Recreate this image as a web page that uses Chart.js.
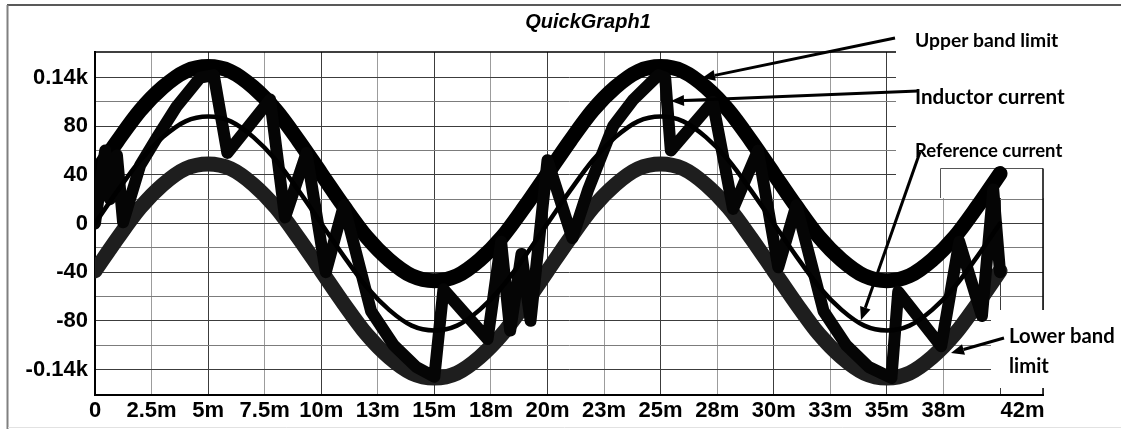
<!DOCTYPE html>
<html>
<head>
<meta charset="utf-8">
<script src="https://cdn.jsdelivr.net/npm/chart.js@4.4.0/dist/chart.umd.min.js"></script>
<style>
  html, body { margin: 0; padding: 0; background: #fff; }
  #wrap { width: 1121px; height: 429px; position: relative; }
</style>
</head>
<body>
<div id="wrap"><canvas id="quickgraph"></canvas></div>
<script>
// time (ms) of the samples
const sampleTimes = [0,1,2,3,4,5,6,7,8,9,10,11,12,13,14,15,16,17,18,19,20,
                     21,22,23,24,25,26,27,28,29,30,31,32,33,34,35,36,37,38,39,40];
const referenceCurrent = [0,27,52,71,84,88,84,71,52,27,0,-27,-52,-71,-84,-88,-84,-71,-52,-27,
                          0,27,52,71,84,88,84,71,52,27,0,-27,-52,-71,-84,-88,-84,-71,-52,-27,0];
const upperBand = [41,68,93,112,125,129,125,112,93,68,41,14,-11,-30,-43,-47,-43,-30,-11,14,
                   41,68,93,112,125,129,125,112,93,68,41,14,-11,-30,-43,-47,-43,-30,-11,14,41];
const lowerBand = [-39,-12,13,32,45,49,45,32,13,-12,-39,-66,-91,-110,-123,-127,-123,-110,-91,-66,
                   -39,-12,13,32,45,49,45,32,13,-12,-39,-66,-91,-110,-123,-127,-123,-110,-91,-66,-39];

// inductor current: corners of the hysteresis zig-zag
const inductorTimes = [0,0.45,0.66,0.97,1.24,2.0,2.75,3.6,4.65,5.25,5.85,7.74,8.4,9.35,10.2,11.0,
                       12.2,13.2,14.2,15.0,15.4,17.35,17.95,18.35,18.85,19.25,20.0,21.1,21.8,22.9,23.8,
                       24.9,25.2,25.45,27.3,28.2,29.3,30.2,31.0,32.2,33.2,34.2,35.2,35.5,37.4,38.2,
                       39.2,39.7,40.0];
const inductorCurrent = [0,60,20,56,1,48,71,96,120,122,58,102,5,58,-40,15,
                         -72,-100,-118,-126,-54,-95,-15,-88,-25,-80,52,-12,28,80,102,
                         122,120,60,100,12,60,-36,15,-72,-100,-118,-127,-56,-101,-15,
                         -76,28,-40];

const xTickValues = [0,2.5,5,7.5,10,12.5,15,17.5,20,22.5,25,27.5,30,32.5,35,37.5,40,41,41.9];
const xTickLabels = ['0','2.5m','5m','7.5m','10m','13m','15m','18m','20m','23m','25m','28m',
                     '30m','33m','35m','38m','','42m',''];
const yTickValues = [-120,-100,-80,-60,-40,-20,0,20,40,60,80,100,120];
const yTickLabels = ['-0.14k','','-80','','-40','','0','','40','','80','','0.14k'];

const toPoints = (xs, ys) => xs.map((x, i) => ({ x: x, y: ys[i] }));

const notes = [
  { text: 'Upper band limit', x: 915, y: 41, w: 143, from: [895, 38], to: [702, 78] },
  { text: 'Inductor current', x: 915, y: 97, w: 150, from: [918, 91], to: [671, 101] },
  { text: 'Reference current', x: 915, y: 151, w: 147, from: [920, 152], to: [861, 320] },
  { text: 'Lower band', x: 1009, y: 336, w: 106, from: [1004, 338], to: [951, 353] },
  { text: 'limit', x: 1009, y: 366, w: 40 }
];

function arrow(ctx, from, to) {
  const ang = Math.atan2(to[1] - from[1], to[0] - from[0]);
  const len = 13, half = 5.5;
  const bx = to[0] - Math.cos(ang) * len, by = to[1] - Math.sin(ang) * len;
  ctx.beginPath();
  ctx.moveTo(from[0], from[1]);
  ctx.lineTo(bx, by);
  ctx.lineWidth = 3;
  ctx.strokeStyle = '#000';
  ctx.stroke();
  ctx.beginPath();
  ctx.moveTo(to[0], to[1]);
  ctx.lineTo(bx + Math.sin(ang) * half, by - Math.cos(ang) * half);
  ctx.lineTo(bx - Math.sin(ang) * half, by + Math.cos(ang) * half);
  ctx.closePath();
  ctx.fillStyle = '#000';
  ctx.fill();
}

const decor = {
  id: 'decor',
  beforeDraw(chart) {
    const ctx = chart.ctx;
    ctx.save();
    ctx.fillStyle = '#fff';
    ctx.fillRect(0, 0, chart.width, chart.height);
    ctx.restore();
  },
  beforeDatasetsDraw(chart) {
    const { ctx, chartArea: a } = chart;
    ctx.save();
    ctx.strokeStyle = '#000';
    ctx.lineWidth = 1.5;
    ctx.strokeRect(a.left, a.top, a.right - a.left, a.bottom - a.top);
    // white text boxes that hide the grid on the right
    ctx.fillStyle = '#fff';
    ctx.fillRect(896, 40, 230, 158);
    ctx.fillRect(991, 310, 130, 78);
    ctx.strokeStyle = '#555';
    ctx.lineWidth = 1;
    ctx.beginPath();
    ctx.moveTo(940.5, 168.5); ctx.lineTo(a.right, 168.5);
    ctx.moveTo(940.5, 168.5); ctx.lineTo(940.5, 198);
    ctx.moveTo(998.5, 168.5); ctx.lineTo(998.5, 198);
    ctx.stroke();
    ctx.strokeStyle = '#000';
    ctx.lineWidth = 1.5;
    ctx.beginPath();
    ctx.moveTo(a.right, 168.5); ctx.lineTo(a.right, 198);
    ctx.stroke();
    ctx.restore();
  },
  afterDraw(chart) {
    const ctx = chart.ctx;
    ctx.save();
    // title
    ctx.fillStyle = '#000';
    ctx.font = 'bold italic 20px "Liberation Sans", Arial, sans-serif';
    ctx.textAlign = 'center';
    ctx.textBaseline = 'middle';
    ctx.fillText('QuickGraph1', 588, 22);
    // annotations
    ctx.textAlign = 'left';
    notes.forEach(n => {
      ctx.font = 'bold 20px Lato, "Open Sans", sans-serif';
      const size = 20 * n.w / ctx.measureText(n.text).width;
      ctx.font = 'bold ' + size.toFixed(1) + 'px Lato, "Open Sans", sans-serif';
      ctx.fillStyle = '#000';
      ctx.fillText(n.text, n.x, n.y);
      if (n.from) arrow(ctx, n.from, n.to);
    });
    // outer frame
    ctx.lineWidth = 1.5;
    ctx.strokeStyle = '#222';
    ctx.beginPath();
    ctx.moveTo(7, 5); ctx.lineTo(chart.width, 5);
    ctx.stroke();
    ctx.lineWidth = 2;
    ctx.strokeStyle = '#808080';
    ctx.beginPath();
    ctx.moveTo(7.5, 5); ctx.lineTo(7.5, chart.height);
    ctx.stroke();
    ctx.lineWidth = 1;
    ctx.strokeStyle = '#e2e2e2';
    ctx.beginPath();
    ctx.moveTo(8, 427.5); ctx.lineTo(chart.width, 427.5);
    ctx.stroke();
    ctx.restore();
  }
};

const axisFont = { family: '"Liberation Sans", Arial, sans-serif', size: 22, weight: 'bold' };

new Chart(document.getElementById('quickgraph'), {
  type: 'line',
  data: {
    datasets: [
      { label: 'Reference current', data: toPoints(sampleTimes, referenceCurrent),
        borderColor: '#000', borderWidth: 4.5, cubicInterpolationMode: 'monotone' },
      { label: 'Inductor current', data: toPoints(inductorTimes, inductorCurrent),
        borderColor: '#050505', borderWidth: 12, tension: 0 },
      { label: 'Upper band limit', data: toPoints(sampleTimes, upperBand),
        borderColor: '#000', borderWidth: 15, cubicInterpolationMode: 'monotone' },
      { label: 'Lower band limit', data: toPoints(sampleTimes, lowerBand),
        borderColor: '#1e1e1e', borderWidth: 15, cubicInterpolationMode: 'monotone' }
    ]
  },
  options: {
    responsive: true,
    maintainAspectRatio: false,
    animation: false,
    events: [],
    elements: {
      point: { radius: 0 },
      line: { borderJoinStyle: 'round', borderCapStyle: 'round', fill: false }
    },
    layout: { padding: { top: 52, right: 78, bottom: 0, left: 0 } },
    plugins: { legend: { display: false }, tooltip: { enabled: false }, title: { display: false } },
    scales: {
      x: {
        type: 'linear', min: 0, max: 41.9,
        afterBuildTicks: s => { s.ticks = xTickValues.map(v => ({ value: v })); },
        afterFit: s => { s.height = 34; },
        ticks: { autoSkip: false, maxRotation: 0, padding: 3, color: '#000', font: axisFont,
                 callback: (v, i) => xTickLabels[i] },
        grid: { drawTicks: false, lineWidth: 1,
                color: c => c.tick && c.tick.value === 41 ? 'rgba(0,0,0,0)'
                           : (c.tick && c.tick.value % 5 === 0 ? '#3c3c3c' : '#9c9c9c') },
        border: { display: true, color: '#000', width: 2 }
      },
      y: {
        type: 'linear', min: -141, max: 141,
        afterBuildTicks: s => { s.ticks = yTickValues.map(v => ({ value: v })); },
        afterFit: s => { s.width = 95; },
        ticks: { autoSkip: false, padding: 7, color: '#000', font: axisFont,
                 callback: (v, i) => yTickLabels[i] },
        grid: { drawTicks: false, lineWidth: 1,
                color: c => c.tick && c.tick.value % 40 === 0 ? '#3c3c3c' : '#7c7c7c' },
        border: { display: true, color: '#000', width: 2 }
      }
    }
  },
  plugins: [decor]
});
</script>
</body>
</html>
